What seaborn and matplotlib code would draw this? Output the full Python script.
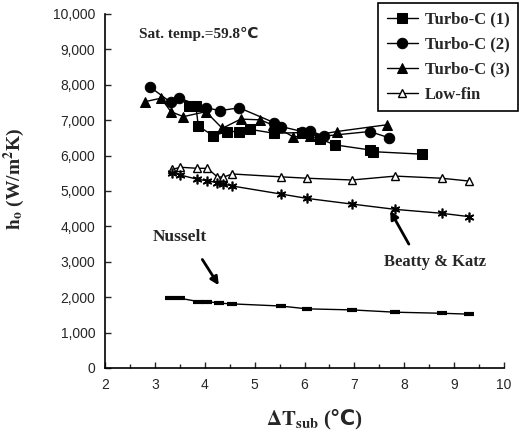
import numpy as np
import pandas as pd
import matplotlib
matplotlib.use('Agg')
import matplotlib.pyplot as plt
import seaborn as sns
from matplotlib.ticker import FuncFormatter, MultipleLocator

sns.set_style('ticks')
plt.rcParams['font.family'] = ['Liberation Serif', 'DejaVu Sans']
plt.rcParams['mathtext.fontset'] = 'stix'

# Turbo-C tubes (measured)
tc1_x = [3.68, 3.82, 3.87, 4.17, 4.44, 4.69, 4.91, 5.39, 5.95, 6.32, 6.62, 7.31, 7.38, 8.35]
tc1_y = [7400, 7400, 6830, 6560, 6680, 6680, 6740, 6630, 6650, 6460, 6300, 6160, 6110, 6040]

tc2_x = [2.89, 3.32, 3.49, 4.02, 4.31, 4.69, 5.39, 5.53, 5.95, 6.11, 6.39, 7.31, 7.7]
tc2_y = [7950, 7500, 7620, 7350, 7270, 7350, 6930, 6820, 6680, 6700, 6550, 6680, 6500]

tc3_x = [2.79, 3.12, 3.32, 3.57, 4.02, 4.35, 4.72, 5.11, 5.37, 5.77, 6.1, 6.65, 7.65]
tc3_y = [7520, 7620, 7240, 7100, 7240, 6770, 7030, 7010, 6860, 6530, 6550, 6680, 6870]

# low-fin tube and correlations share the same subcooling values
lf_x = [3.35, 3.51, 3.85, 4.05, 4.25, 4.37, 4.55, 5.52, 6.05, 6.95, 7.82, 8.75, 9.3]
lf_y = [5610, 5670, 5640, 5640, 5400, 5390, 5480, 5400, 5360, 5310, 5420, 5360, 5280]
bk_y = [5520, 5450, 5330, 5290, 5235, 5200, 5140, 4915, 4790, 4630, 4480, 4370, 4275]
nu_x = [3.3, 3.5, 3.87, 4.05, 4.29, 4.55, 5.52, 6.05, 6.95, 7.82, 8.75, 9.3]
nu_y = [1970, 1970, 1875, 1875, 1830, 1810, 1750, 1670, 1640, 1575, 1545, 1520]

fig = plt.figure(figsize=(5.31, 4.37), dpi=100)
ax = fig.add_axes([0.198, 0.158, 0.751, 0.81])

k = dict(color='black', ax=ax, sort=False, linewidth=1.0)
sns.lineplot(x=tc1_x, y=tc1_y, marker='s', markersize=7, markeredgecolor='black',
             label='Turbo-C (1)', **k)
sns.lineplot(x=tc2_x, y=tc2_y, marker='o', markersize=7.5, markeredgecolor='black',
             label='Turbo-C (2)', **k)
sns.lineplot(x=tc3_x, y=tc3_y, marker='^', markersize=7.5, markeredgecolor='black',
             label='Turbo-C (3)', **k)
sns.lineplot(x=lf_x, y=lf_y, marker='^', markersize=6, markerfacecolor='white',
             markeredgecolor='black', markeredgewidth=1.0, label='Low-fin', **k)
sns.lineplot(x=lf_x, y=bk_y, marker=(6, 2, 0), markersize=7, markeredgecolor='black',
             markeredgewidth=1.2, legend=False, **k)
sns.lineplot(x=nu_x, y=nu_y, marker='_', markersize=7, markeredgecolor='black',
             markeredgewidth=3, legend=False, **k)

ax.set_xlim(2, 10)
ax.set_ylim(0, 10000)
ax.xaxis.set_major_locator(MultipleLocator(1))
ax.xaxis.set_minor_locator(MultipleLocator(0.5))
ax.yaxis.set_major_locator(MultipleLocator(1000))
ax.yaxis.set_major_formatter(FuncFormatter(lambda v, p: f'{int(v):,}'))
ax.tick_params(direction='in', length=4, width=1, labelsize=10, pad=7)
ax.tick_params(which='minor', direction='in', length=3, width=1)
for lab in ax.get_xticklabels() + ax.get_yticklabels():
    lab.set_fontfamily('Liberation Sans')
sns.despine(ax=ax)
for s in ['left', 'bottom']:
    ax.spines[s].set_linewidth(1.2)
    ax.spines[s].set_color('black')

ax.set_xlabel('')
ax.set_ylabel(r'$\mathbf{h_o}$ (W/m$\mathbf{^2}$K)', fontsize=14, fontweight='bold')
ax.yaxis.set_label_coords(-0.195, 0.535)

# x label: math part plus the degree sign text beside it
xl = fig.text(266 / 531, 1 - 419 / 437, r'$\mathbf{\Delta T_{sub}}$', fontsize=15,
              ha='left', va='center')
ax.annotate('(℃)', xy=(1, 0.5), xycoords=xl, xytext=(3, 0), textcoords='offset points',
            ha='left', va='center', fontsize=15, fontweight='bold')

ax.text(2.68, 9440, 'Sat. temp.=59.8℃', fontsize=11, fontweight='bold', va='center')
ax.text(2.96, 3690, 'Nusselt', fontsize=12.5, fontweight='bold', va='center')
ax.annotate('', xy=(4.31, 2270), xytext=(3.92, 3130),
            arrowprops=dict(arrowstyle='-|>', color='black', lw=2, mutation_scale=12))
ax.text(7.6, 2990, 'Beatty & Katz', fontsize=12, fontweight='bold', va='center')
ax.annotate('', xy=(7.69, 4510), xytext=(8.12, 3430),
            arrowprops=dict(arrowstyle='-|>', color='black', lw=2, mutation_scale=12))

leg = ax.legend(loc='upper left', bbox_to_anchor=(0.685, 1.031), frameon=True, fancybox=False,
                edgecolor='black', handlelength=1.9, labelspacing=0.55,
                borderpad=0.5, handletextpad=0.4, borderaxespad=0,
                prop={'weight': 'bold', 'size': 12})
leg.get_frame().set_linewidth(1.2)
leg.get_frame().set_alpha(1)

fig.savefig('out.png', dpi=100)
